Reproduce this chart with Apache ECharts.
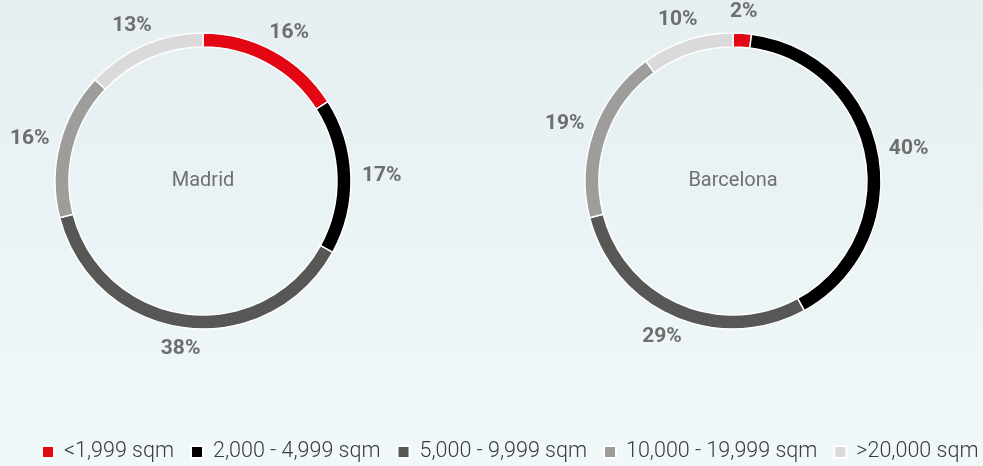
<!DOCTYPE html>
<html><head><meta charset="utf-8">
<script src="https://cdn.jsdelivr.net/npm/echarts@6/dist/echarts.min.js"></script>
<style>html,body{margin:0;padding:0;width:983px;height:466px;overflow:hidden}#c{width:983px;height:466px}</style>
</head><body><div id="c"></div>
<script>
const categories = ['<1,999 sqm', '2,000 - 4,999 sqm', '5,000 - 9,999 sqm', '10,000 - 19,999 sqm', '>20,000 sqm'];
const cities = ['Madrid', 'Barcelona'];
const madridValues = [16, 17, 38, 16, 13];
const barcelonaValues = [2, 40, 29, 19, 10];
const colors = ['#E30613', '#000000', '#575756', '#9D9D9C', '#DADADA'];

const seriesValues = [madridValues, barcelonaValues];
const centers = [[203, 181], [733, 181]];
const FONT = 'Roboto, "Noto Sans", sans-serif';

const chart = echarts.init(document.getElementById('c'), null, {renderer: 'canvas'});

function labelLayout(p) {
  const pts = p.labelLinePoints;
  if (!pts || pts.length < 2) return {};
  const a = pts[0], b = pts[1];
  let dx = b[0] - a[0], dy = b[1] - a[1];
  const len = Math.hypot(dx, dy) || 1;
  dx /= len; dy /= len;
  const w = p.labelRect.width, h = p.labelRect.height;
  return {x: b[0] + dx * w / 2, y: b[1] + dy * h / 2, align: 'center', verticalAlign: 'middle'};
}

const series = cities.map((city, s) => ({
  name: city,
  type: 'pie',
  center: centers[s],
  radius: [134, 148],
  startAngle: 90,
  clockwise: true,
  avoidLabelOverlap: false,
  silent: true,
  itemStyle: {borderColor: '#ffffff', borderWidth: 1.5},
  label: {
    show: true, position: 'outside',
    formatter: '{c}%',
    color: '#6E6E6E', fontFamily: FONT, fontWeight: 'bold', fontSize: 21
  },
  labelLine: {show: true, length: 11, length2: 0, lineStyle: {color: 'rgba(0,0,0,0)', width: 0}},
  labelLayout: labelLayout,
  data: categories.map((c, i) => ({name: c, value: seriesValues[s][i], itemStyle: {color: colors[i]}}))
}));

chart.setOption({
  backgroundColor: {
    type: 'linear', x: 0, y: 0, x2: 0, y2: 1,
    colorStops: [{offset: 0, color: '#E5EEF0'}, {offset: 1, color: '#F0F8FA'}]
  },
  animation: false,
  title: cities.map((city, s) => ({
    text: city,
    left: centers[s][0], top: centers[s][1],
    textAlign: 'center', textVerticalAlign: 'middle',
    padding: 0,
    textStyle: {color: '#707070', fontFamily: FONT, fontWeight: 'normal', fontSize: 20}
  })),
  legend: {
    left: 41, top: 441, width: 942, padding: 0,
    itemWidth: 12, itemHeight: 12, itemGap: 16,
    icon: 'rect',
    selectedMode: false,
    data: categories,
    textStyle: {color: '#3A3A3A', fontFamily: FONT, fontWeight: 300, fontSize: 21.5, lineHeight: 22, padding: [0, 0, 0, 5]}
  },
  series: series
});
</script>
</body></html>
